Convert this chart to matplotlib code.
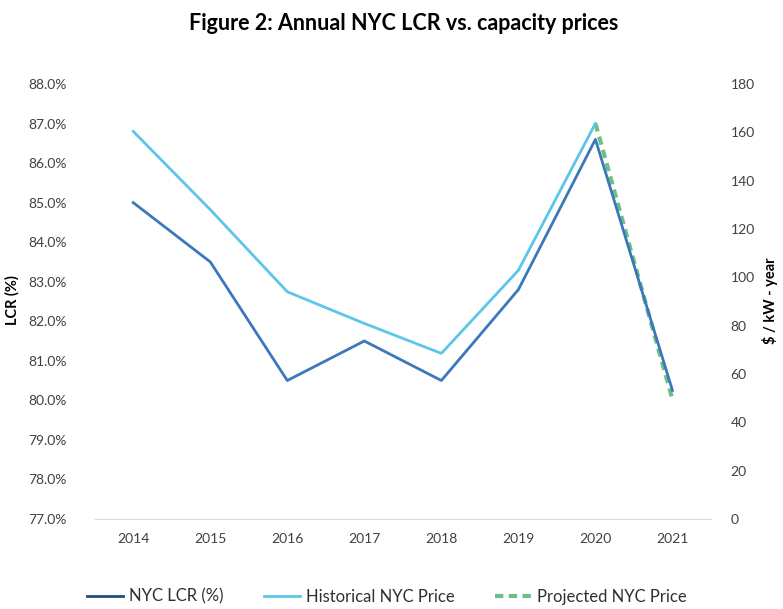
import numpy as np
import matplotlib.pyplot as plt
from matplotlib.lines import Line2D

years = ['2014', '2015', '2016', '2017', '2018', '2019', '2020', '2021']
lcr = [85.0, 83.5, 80.5, 81.5, 80.5, 82.8, 86.6, 80.25]
hist_price = [160.4, 128.0, 94.0, 80.9, 68.5, 102.9, 163.7, np.nan]
proj_price = [np.nan, np.nan, np.nan, np.nan, np.nan, np.nan, 163.7, 49.5]

c_lcr = '#3b78bb'
c_hist = '#5cc5ea'
c_proj = '#6cc082'
txt = '#404040'

plt.rcParams['font.family'] = ['Lato', 'DejaVu Sans']

fig = plt.figure(figsize=(7.83, 6.09), dpi=100)
ax = fig.add_axes([0.121, 0.148, 0.787, 0.714])
ax2 = ax.twinx()

x = np.arange(len(years))
ax.plot(x, lcr, color=c_lcr, lw=2, zorder=3)
ax2.plot(x, hist_price, color=c_hist, lw=2, zorder=2)
ax2.plot(x, proj_price, color=c_proj, lw=3, ls=(0, (2, 1.3)), zorder=1)
ax.set_zorder(ax2.get_zorder() + 1)
ax.patch.set_visible(False)

ax.set_xlim(-0.5, len(years) - 0.5)
ax.set_ylim(77, 88)
ax.set_yticks(np.arange(77, 88.5, 1))
ax.set_yticklabels(['%.1f%%' % v for v in np.arange(77, 88.5, 1)])
ax2.set_ylim(0, 180)
ax2.set_yticks(range(0, 181, 20))
ax.set_xticks(x)
ax.set_xticklabels(years)

for a in (ax, ax2):
    for s in a.spines.values():
        s.set_visible(False)
    a.tick_params(length=0, labelsize=10, labelcolor=txt)
ax.spines['bottom'].set_visible(True)
ax.spines['bottom'].set_color('#d9d9d9')
ax.tick_params(axis='y', pad=20)
ax.tick_params(axis='x', pad=10)
ax2.tick_params(axis='y', pad=14)

fig.text(0.016, 0.507, 'LCR (%)', rotation=90, ha='center', va='center',
         fontsize=10.5, fontweight='bold')
fig.text(0.983, 0.507, '$ / kW - year', rotation=90, ha='center', va='center',
         fontsize=10.5, fontweight='bold')

fig.suptitle('Figure 2: Annual NYC LCR vs. capacity prices', x=0.516, y=0.978,
             fontsize=15.5, fontweight='bold')

handles = [Line2D([], [], color='#1f4e79', lw=2),
           Line2D([], [], color=c_hist, lw=2),
           Line2D([], [], color=c_proj, lw=3, ls=(0, (2, 1.3)))]
fig.legend(handles, ['NYC LCR (%)', 'Historical NYC Price', 'Projected NYC Price'],
           loc='center', bbox_to_anchor=(0.494, 0.02), ncol=3, frameon=False,
           fontsize=12, labelcolor='#303030', handlelength=2.2, handletextpad=0.35,
           columnspacing=2.4)

fig.savefig('out.png', dpi=100)
